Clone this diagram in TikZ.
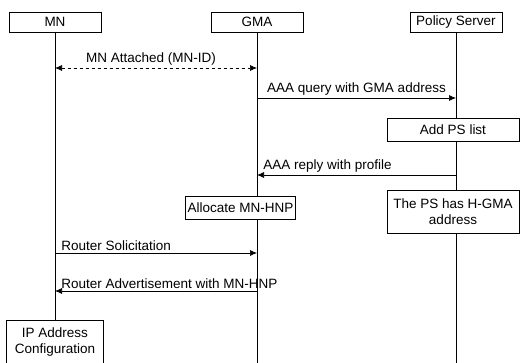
\documentclass[tikz,border=0pt]{standalone}
\usepackage{fontspec}
\setmainfont{Liberation Sans}
\usetikzlibrary{arrows.meta}

\begin{document}
\begin{tikzpicture}[x=1pt, y=-1pt, font=\fontsize{13.5}{16.5}\selectfont,
  actor/.style={draw, fill=white, minimum width=92pt, minimum height=20pt, inner sep=0pt},
  task/.style={draw, fill=white, align=center, inner sep=2pt},
  msg/.style={-{Latex[length=7pt,width=6pt]}, line width=0.7pt},
  dmsg/.style={{Latex[length=7pt,width=6pt]}-{Latex[length=7pt,width=6pt]}, dashed, line width=0.7pt},
  lbl/.style={inner sep=2pt},
  life/.style={line width=0.8pt}]
\useasboundingbox (0,0) rectangle (520,363);

% Entities
\node[actor] (mn) at (55,22) {MN};
\node[actor] (gma) at (257,22) {GMA};
\node[actor] (ps) at (456,22) {Policy Server};
\coordinate (gmaend) at (257,363);
\coordinate (psend) at (456,363);

% Final step at MN
\node[task, minimum width=97pt, minimum height=44pt] (ipcfg) at (55,342) {IP Address\\Configuration};

% Lifelines
\draw[life] (mn) -- (ipcfg);
\draw[life] (gma) -- (gmaend);
\draw[life] (ps) -- (psend);

% Actions
\node[task, minimum width=132pt, minimum height=23pt] (addps) at (453,129.5) {Add PS list};
\node[task, minimum width=89pt, minimum height=23pt] (alloc) at (240.5,207.5) {Allocate MN-HNP};
\node[task, minimum width=132pt, minimum height=43pt] (pshas) at (453,211.5) {The PS has H-GMA\\address};

% Messages
\coordinate (attmn) at (55,68);   \coordinate (attgma) at (257,68);
\coordinate (qrygma) at (257,98); \coordinate (qryps) at (456,98);
\coordinate (repps) at (456,175); \coordinate (repgma) at (257,175);
\coordinate (rsmn) at (55,253);   \coordinate (rsgma) at (257,253);
\coordinate (ragma) at (257,291); \coordinate (ramn) at (55,291);

\draw[dmsg] (attmn) -- node[above, lbl, xshift=-5pt] {MN Attached (MN-ID)} (attgma);
\draw[msg] (qrygma) -- node[above, lbl] {AAA query with GMA address} (qryps);
\draw[msg] (repps) -- node[pos=1, above right, lbl, xshift=4pt] {AAA reply with profile} (repgma);
\draw[msg] (rsmn) -- node[pos=0, above right, lbl, xshift=4pt] {Router Solicitation} (rsgma);
\draw[msg] (ragma) -- node[pos=1, above right, lbl, xshift=4pt] {Router Advertisement with MN-HNP} (ramn);
\end{tikzpicture}
\end{document}
